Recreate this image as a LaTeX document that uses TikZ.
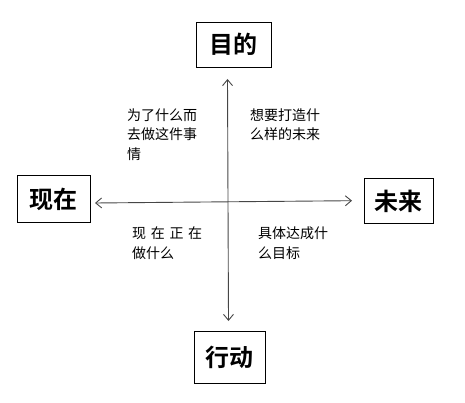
\documentclass[tikz,border=0pt]{standalone}
\usepackage{fontspec}
\newfontfamily\cjk{Noto Sans CJK SC}
\newfontfamily\cjkbold{Noto Sans CJK SC Bold}
\usetikzlibrary{arrows.meta}
\begin{document}
\begin{tikzpicture}[x=1pt,y=-1pt,
  box/.style={draw=black,line width=1pt,inner sep=0pt,font=\cjkbold\fontsize{24}{26}\selectfont},
  note/.style={anchor=base west,inner sep=0pt,font=\cjk\fontsize{14}{16}\selectfont},
  axis/.style={draw={rgb,255:red,70;green,70;blue,70},line width=0.9pt,-{Straight Barb[length=6pt,width=10pt]}}]
\useasboundingbox (0,0) rectangle (465,403);
\node[box,minimum width=75pt,minimum height=45pt] (goal) at (233.5,44.7) {目的};
\node[box,minimum width=73pt,minimum height=46pt] (now) at (53.5,199) {现在};
\node[box,minimum width=69pt,minimum height=44pt] (future) at (398.5,201) {未来};
\node[box,minimum width=71pt,minimum height=52pt] (act) at (229.5,357) {行动};
\coordinate (vt) at (227.5,79);
\coordinate (vb) at (228.5,321);
\coordinate (hl) at (95,203);
\coordinate (hr) at (352,200.7);
\coordinate (vm) at (228,201.8);
\draw[axis] (vm) -- (vt);
\draw[axis] (vm) -- (vb);
\draw[axis] (vm) -- (hl);
\draw[axis] (vm) -- (hr);
\node[note] (t1) at (127,120.3) {为了什么而};
\node[note] (t2) at (127,139.3) {去做这件事};
\node[note] (t3) at (127,159.3) {情};
\node[note] (t4) at (250,120.3) {想要打造什};
\node[note] (t5) at (250,139.3) {么样的未来};
\node[note] (t6) at (132,238.3) {现\,\,在\,\,正\,\,在};
\node[note] (t7) at (132,258.3) {做什么};
\node[note] (t8) at (258,238.3) {具体达成什};
\node[note] (t9) at (258,258.3) {么目标};
\end{tikzpicture}
\end{document}
